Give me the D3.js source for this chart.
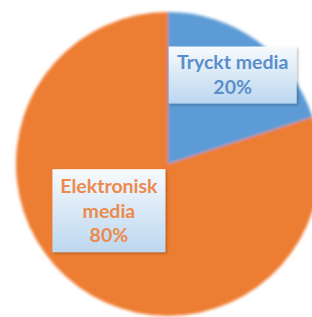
<!DOCTYPE html>
<html lang="sv">
<head>
  <meta charset="UTF-8">
  <title>Tryckt och elektronisk media</title>
  <script src="https://d3js.org/d3.v7.min.js"></script>
  <style>
    body { margin: 0; background: #fff; }
    svg { display: block; }
  </style>
</head>
<body>
<div id="chart"></div>
<script>
  const categories = ["Tryckt media", "Elektronisk media"];
  const values = [20, 80];
  const labelLines = [["Tryckt media", "20%"], ["Elektronisk", "media", "80%"]];

  const width = 312, height = 317;
  const cx = 168, cy = 164, radius = 152;
  const colors = ["#5b9bd5", "#ed7d31"];
  const textColors = ["#5a8ecb", "#ec8a4c"];

  const svg = d3.select("#chart").append("svg").attr("width", width).attr("height", height);
  const defs = svg.append("defs");

  const soft = defs.append("filter").attr("id", "soft")
    .attr("x", "-10%").attr("y", "-10%").attr("width", "120%").attr("height", "120%");
  soft.append("feGaussianBlur").attr("stdDeviation", 1.6);

  const shadow = defs.append("filter").attr("id", "shadow")
    .attr("x", "-10%").attr("y", "-10%").attr("width", "125%").attr("height", "125%");
  shadow.append("feDropShadow").attr("dx", 1.5).attr("dy", 1.5)
    .attr("stdDeviation", 1.2).attr("flood-color", "#000").attr("flood-opacity", 0.25);

  const grad = defs.append("linearGradient").attr("id", "boxGrad")
    .attr("x1", 0).attr("y1", 0).attr("x2", 0).attr("y2", 1);
  grad.append("stop").attr("offset", "0%").attr("stop-color", "#f7fafd");
  grad.append("stop").attr("offset", "100%").attr("stop-color", "#bcd7ef");

  const pie = d3.pie().sort(null).value(d => d);
  const arcs = pie(values);
  const arc = d3.arc().innerRadius(0).outerRadius(radius);

  const g = svg.append("g").attr("transform", `translate(${cx},${cy})`);

  g.append("g").attr("filter", "url(#soft)")
    .selectAll("path")
    .data(arcs)
    .join("path")
    .attr("d", arc)
    .attr("fill", (d, i) => colors[i]);

  // label placement: along the slice's mid angle, Excel-ish best fit
  const labelArcs = [
    d3.arc().innerRadius(110).outerRadius(110),
    d3.arc().innerRadius(75).outerRadius(75)
  ];
  const nudge = [[0, 0], [-15, -14]];
  const lineH = 25;

  arcs.forEach((d, i) => {
    const [lx, ly] = labelArcs[i].centroid(d);
    const x = lx + nudge[i][0], y = ly + nudge[i][1];
    const lines = labelLines[i];

    const lg = g.append("g").attr("transform", `translate(${x},${y})`);
    const w = i === 0 ? 128 : 113;
    const h = lines.length * 26 + 5;
    lg.append("rect")
      .attr("x", -w / 2).attr("y", -h / 2).attr("width", w).attr("height", h)
      .attr("fill", "url(#boxGrad)")
      .attr("filter", "url(#shadow)");

    const text = lg.append("text")
      .attr("text-anchor", "middle")
      .attr("fill", textColors[i])
      .style("font-family", "Lato, 'Open Sans', sans-serif")
      .style("font-weight", 700)
      .style("font-size", "19.5px");
    lines.forEach((t, j) => {
      text.append("tspan")
        .attr("x", 0)
        .attr("y", (j - (lines.length - 1) / 2) * lineH)
        .attr("dy", "0.35em")
        .text(t);
    });
  });
</script>
</body>
</html>
